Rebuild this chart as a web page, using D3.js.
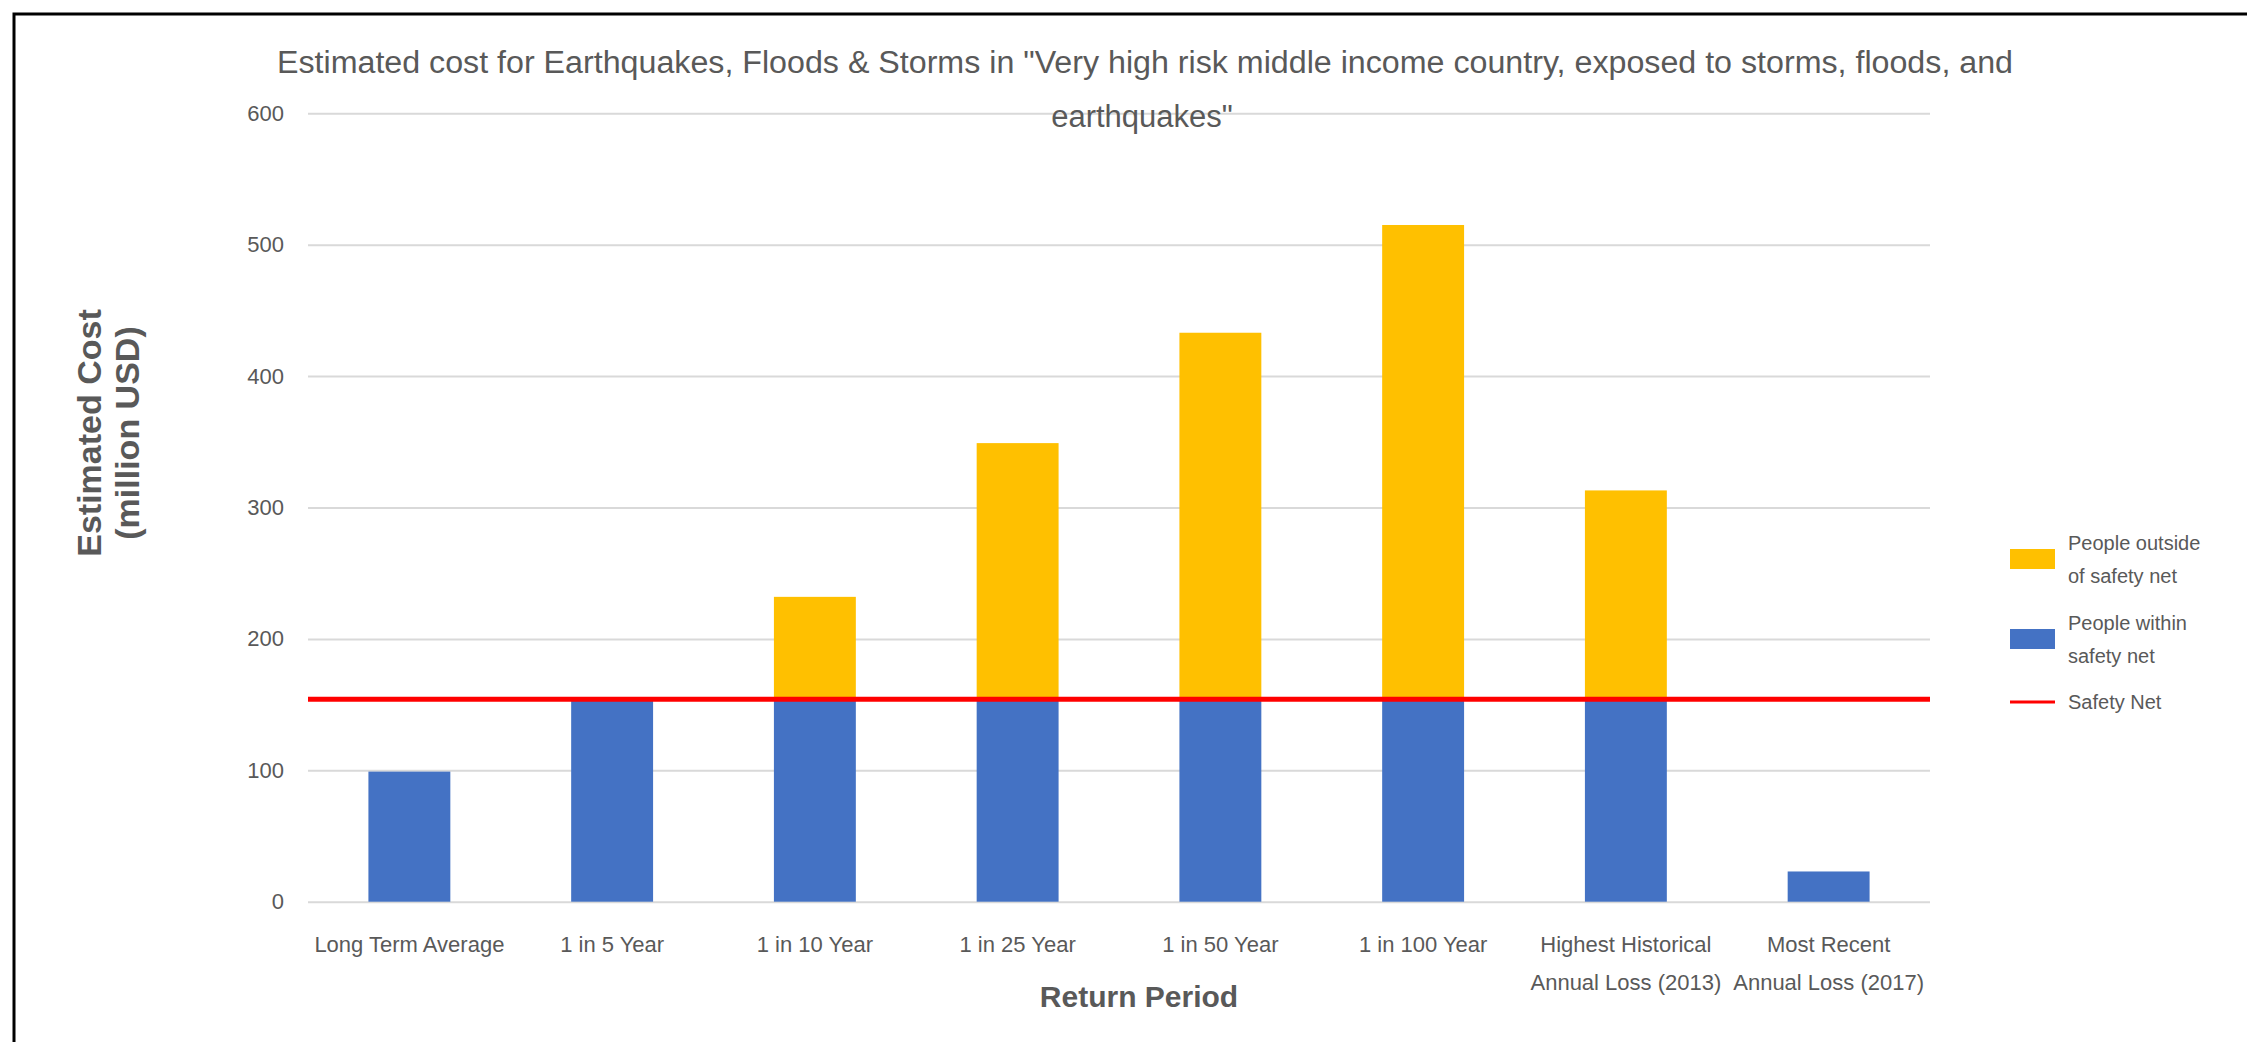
<!DOCTYPE html>
<html>
<head>
<meta charset="utf-8">
<script src="https://cdn.jsdelivr.net/npm/d3@7"></script>
<style>
  html, body { margin: 0; padding: 0; background: #ffffff; }
  svg { display: block; }
  text { font-family: "Liberation Sans", Arial, sans-serif; fill: #595959; }
</style>
</head>
<body>
<svg id="chart" width="2247" height="1042"></svg>
<script>
// Return periods on the x axis ("\n" marks a line break in the label)
const categories = [
  "Long Term Average",
  "1 in 5 Year",
  "1 in 10 Year",
  "1 in 25 Year",
  "1 in 50 Year",
  "1 in 100 Year",
  "Highest Historical\nAnnual Loss (2013)",
  "Most Recent\nAnnual Loss (2017)"
];

// Estimated cost, million USD
const withinSafetyNet  = [99, 154, 154, 154, 154, 154, 154, 23];
const outsideSafetyNet = [0, 0, 78, 195, 279, 361, 159, 0];
const safetyNet = 154;

const yTicks = [0, 100, 200, 300, 400, 500, 600];

const titleLines = [
  "Estimated cost for Earthquakes, Floods & Storms in \"Very high risk middle income country, exposed to storms, floods, and",
  "earthquakes\""
];
const yTitleLines = ["Estimated Cost", "(million USD)"];
const xTitle = "Return Period";
const legendItems = [
  { key: "outside", lines: ["People outside", "of safety net"], type: "rect" },
  { key: "within",  lines: ["People within", "safety net"],     type: "rect" },
  { key: "net",     lines: ["Safety Net"],                      type: "line" }
];

const colors = { within: "#4472C4", outside: "#FFC000", net: "#FF0000" };

const svg = d3.select("#chart");

// Outer frame
svg.append("rect")
  .attr("x", 14).attr("y", 14)
  .attr("width", 2300).attr("height", 1100)
  .attr("fill", "none").attr("stroke", "#000").attr("stroke-width", 3);

const plot = { left: 308, right: 1930, top: 113.3, bottom: 901.7 };

const x = d3.scaleBand()
  .domain(categories)
  .range([plot.left, plot.right])
  .paddingInner(0.596)
  .paddingOuter(0.298);

const y = d3.scaleLinear()
  .domain([0, 600])
  .range([plot.bottom, plot.top]);

// Gridlines
svg.append("g")
  .attr("transform", `translate(${plot.left},0)`)
  .call(d3.axisLeft(y).tickValues(yTicks).tickSize(-(plot.right - plot.left)).tickFormat(""))
  .call(g => g.select(".domain").remove())
  .call(g => g.selectAll("line").attr("stroke", "#D9D9D9").attr("stroke-width", 2));

// Y tick labels
svg.append("g")
  .attr("transform", `translate(${plot.left},0)`)
  .call(d3.axisLeft(y).tickValues(yTicks).tickSize(0).tickPadding(24))
  .call(g => g.select(".domain").remove())
  .call(g => g.selectAll("text")
    .style("font-family", "\"Liberation Sans\", Arial, sans-serif")
    .style("font-size", "22px").attr("fill", "#595959"));

// Stacked bars
const rows = categories.map((c, i) => ({ cat: c, within: withinSafetyNet[i], outside: outsideSafetyNet[i] }));
const stack = d3.stack().keys(["within", "outside"])(rows);

svg.append("g").selectAll("g")
  .data(stack)
  .join("g")
  .attr("fill", d => colors[d.key])
  .selectAll("rect")
  .data(d => d.filter(s => s[1] - s[0] > 0))
  .join("rect")
  .attr("x", d => x(d.data.cat))
  .attr("width", x.bandwidth())
  .attr("y", d => y(d[1]))
  .attr("height", d => y(d[0]) - y(d[1]));

// Safety net line
svg.append("line")
  .attr("x1", plot.left).attr("x2", plot.right)
  .attr("y1", y(safetyNet)).attr("y2", y(safetyNet))
  .attr("stroke", colors.net).attr("stroke-width", 5);

// X axis labels
const xAxis = svg.append("g")
  .attr("transform", `translate(0,${plot.bottom})`)
  .call(d3.axisBottom(x).tickSize(0).tickFormat(""))
  .call(g => g.select(".domain").remove());

xAxis.selectAll(".tick").each(function(d) {
  const t = d3.select(this).append("text")
    .attr("text-anchor", "middle")
    .style("font-size", "22px");
  d.split("\n").forEach((line, i) => {
    t.append("tspan").attr("x", 0).attr("y", 50 + i * 38).text(line);
  });
});

// Chart title
const title = svg.append("text")
  .attr("text-anchor", "middle")
  .style("font-size", "31px");
title.append("tspan").attr("x", 1145).attr("y", 73)
  .attr("textLength", 1736).attr("lengthAdjust", "spacingAndGlyphs")
  .text(titleLines[0]);
title.append("tspan").attr("x", 1142).attr("y", 127).text(titleLines[1]);

// Axis titles
svg.append("text")
  .attr("text-anchor", "middle")
  .attr("transform", "translate(0,433) rotate(-90)")
  .style("font-size", "34px").style("font-weight", "bold")
  .selectAll("tspan")
  .data(yTitleLines)
  .join("tspan")
  .attr("x", 0)
  .attr("y", (d, i) => 101 + i * 38)
  .text(d => d);

svg.append("text")
  .attr("x", 1139).attr("y", 1007)
  .attr("text-anchor", "middle")
  .style("font-size", "30px").style("font-weight", "bold")
  .text(xTitle);

// Legend
const legendY = { outside: 559, within: 639, net: 702 };
const legend = svg.append("g");
legendItems.forEach(item => {
  const cy = legendY[item.key];
  if (item.type === "rect") {
    legend.append("rect")
      .attr("x", 2010).attr("y", cy - 10)
      .attr("width", 45).attr("height", 20)
      .attr("fill", colors[item.key]);
  } else {
    legend.append("line")
      .attr("x1", 2010).attr("x2", 2055)
      .attr("y1", cy).attr("y2", cy)
      .attr("stroke", colors[item.key]).attr("stroke-width", 3);
  }
  const n = item.lines.length;
  const t = legend.append("text").style("font-size", "20px");
  item.lines.forEach((line, i) => {
    t.append("tspan")
      .attr("x", 2068)
      .attr("y", cy + (i - (n - 1) / 2) * 33 + 7)
      .text(line);
  });
});
</script>
</body>
</html>
